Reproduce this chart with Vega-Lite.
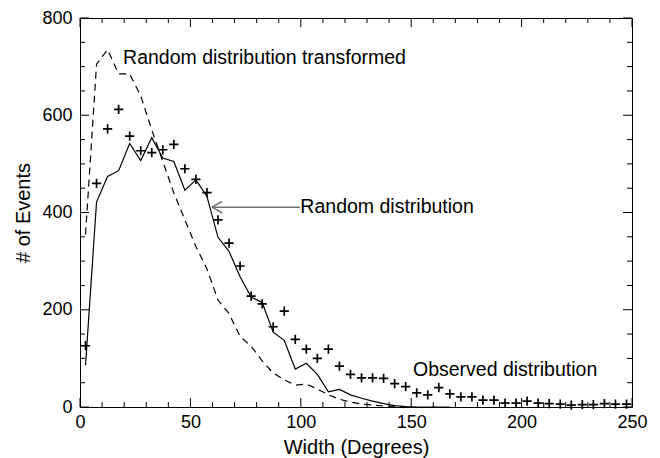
{
  "$schema": "https://vega.github.io/schema/vega-lite/v6.json",
  "width": 552,
  "height": 389,
  "autosize": "none",
  "padding": {"left": 80, "top": 18, "right": 28, "bottom": 51},
  "background": "white",
  "config": {
    "view": {"stroke": "black", "strokeWidth": 1},
    "font": "Liberation Sans",
    "axis": {"labelFont": "Liberation Sans", "titleFont": "Liberation Sans", "labelFontSize": 18, "titleFontSize": 20, "titleFontWeight": "normal", "labelColor": "black", "titleColor": "black", "ticks": false, "domain": false, "grid": false}
  },
  "datasets": {
    "observed": [
      {"w": 2.5, "n": 126}, {"w": 7.5, "n": 460}, {"w": 12.5, "n": 572}, {"w": 17.5, "n": 612}, {"w": 22.5, "n": 557},
      {"w": 27.5, "n": 527}, {"w": 32.5, "n": 523}, {"w": 37.5, "n": 529}, {"w": 42.5, "n": 540}, {"w": 47.5, "n": 490},
      {"w": 52.5, "n": 468}, {"w": 57.5, "n": 441}, {"w": 62.5, "n": 385}, {"w": 67.5, "n": 337}, {"w": 72.5, "n": 290},
      {"w": 77.5, "n": 228}, {"w": 82.5, "n": 212}, {"w": 87.5, "n": 165}, {"w": 92.5, "n": 197}, {"w": 97.5, "n": 139},
      {"w": 102.5, "n": 119}, {"w": 107.5, "n": 100}, {"w": 112.5, "n": 119}, {"w": 117.5, "n": 84}, {"w": 122.5, "n": 67},
      {"w": 127.5, "n": 60}, {"w": 132.5, "n": 60}, {"w": 137.5, "n": 59}, {"w": 142.5, "n": 48}, {"w": 147.5, "n": 42},
      {"w": 152.5, "n": 29}, {"w": 157.5, "n": 25}, {"w": 162.5, "n": 40}, {"w": 167.5, "n": 27}, {"w": 172.5, "n": 21},
      {"w": 177.5, "n": 21}, {"w": 182.5, "n": 14}, {"w": 187.5, "n": 14}, {"w": 192.5, "n": 8}, {"w": 197.5, "n": 8},
      {"w": 202.5, "n": 12}, {"w": 207.5, "n": 8}, {"w": 212.5, "n": 7}, {"w": 217.5, "n": 6}, {"w": 222.5, "n": 4},
      {"w": 227.5, "n": 5}, {"w": 232.5, "n": 5}, {"w": 237.5, "n": 7}, {"w": 242.5, "n": 6}, {"w": 247.5, "n": 6}
    ],
    "random": [
      {"w": 2.5, "n": 86}, {"w": 7.5, "n": 422}, {"w": 12.5, "n": 474}, {"w": 17.5, "n": 486}, {"w": 22.5, "n": 542},
      {"w": 27.5, "n": 507}, {"w": 32.5, "n": 554}, {"w": 37.5, "n": 512}, {"w": 42.5, "n": 505}, {"w": 47.5, "n": 446},
      {"w": 52.5, "n": 467}, {"w": 57.5, "n": 433}, {"w": 62.5, "n": 349}, {"w": 67.5, "n": 320}, {"w": 72.5, "n": 268},
      {"w": 77.5, "n": 226}, {"w": 82.5, "n": 215}, {"w": 87.5, "n": 154}, {"w": 92.5, "n": 137}, {"w": 97.5, "n": 78},
      {"w": 102.5, "n": 90}, {"w": 107.5, "n": 67}, {"w": 112.5, "n": 31}, {"w": 117.5, "n": 36}, {"w": 122.5, "n": 25},
      {"w": 127.5, "n": 18}, {"w": 132.5, "n": 12}, {"w": 137.5, "n": 7}, {"w": 142.5, "n": 3}, {"w": 147.5, "n": 1},
      {"w": 152.5, "n": 0}, {"w": 157.5, "n": 0}, {"w": 162.5, "n": 0}, {"w": 167.5, "n": 0}
    ],
    "transformed": [
      {"w": 2.5, "n": 355}, {"w": 7.5, "n": 705}, {"w": 12.5, "n": 735}, {"w": 17.5, "n": 685}, {"w": 22.5, "n": 685},
      {"w": 27.5, "n": 640}, {"w": 32.5, "n": 570}, {"w": 37.5, "n": 505}, {"w": 42.5, "n": 440}, {"w": 47.5, "n": 385},
      {"w": 52.5, "n": 330}, {"w": 57.5, "n": 284}, {"w": 62.5, "n": 220}, {"w": 67.5, "n": 192}, {"w": 72.5, "n": 145},
      {"w": 77.5, "n": 125}, {"w": 82.5, "n": 95}, {"w": 87.5, "n": 70}, {"w": 92.5, "n": 56}, {"w": 97.5, "n": 45},
      {"w": 102.5, "n": 47}, {"w": 107.5, "n": 37}, {"w": 112.5, "n": 25}, {"w": 117.5, "n": 16}, {"w": 122.5, "n": 10},
      {"w": 127.5, "n": 6}, {"w": 132.5, "n": 4}, {"w": 137.5, "n": 2}, {"w": 142.5, "n": 1}, {"w": 147.5, "n": 0}
    ],
    "labels": [
      {"label": "Random distribution transformed", "w": 19.5, "n": 718},
      {"label": "Random distribution", "w": 99.8, "n": 411},
      {"label": "Observed distribution", "w": 150.8, "n": 76}
    ],
    "arrow": [
      {"w": 99.6, "n": 411, "w2": 59.8, "n2": 411},
      {"w": 59.8, "n": 411, "w2": 64.4, "n2": 423},
      {"w": 59.8, "n": 411, "w2": 64.4, "n2": 399}
    ],
    "xmajBottom": [{"w": 0, "n": 0}, {"w": 50, "n": 0}, {"w": 100, "n": 0}, {"w": 150, "n": 0}, {"w": 200, "n": 0}, {"w": 250, "n": 0}],
    "xmajTop": [{"w": 0, "n": 800}, {"w": 50, "n": 800}, {"w": 100, "n": 800}, {"w": 150, "n": 800}, {"w": 200, "n": 800}, {"w": 250, "n": 800}],
    "xminBottom": [{"w": 10, "n": 0}, {"w": 20, "n": 0}, {"w": 30, "n": 0}, {"w": 40, "n": 0}, {"w": 60, "n": 0}, {"w": 70, "n": 0}, {"w": 80, "n": 0}, {"w": 90, "n": 0}, {"w": 110, "n": 0}, {"w": 120, "n": 0}, {"w": 130, "n": 0}, {"w": 140, "n": 0}, {"w": 160, "n": 0}, {"w": 170, "n": 0}, {"w": 180, "n": 0}, {"w": 190, "n": 0}, {"w": 210, "n": 0}, {"w": 220, "n": 0}, {"w": 230, "n": 0}, {"w": 240, "n": 0}],
    "xminTop": [{"w": 10, "n": 800}, {"w": 20, "n": 800}, {"w": 30, "n": 800}, {"w": 40, "n": 800}, {"w": 60, "n": 800}, {"w": 70, "n": 800}, {"w": 80, "n": 800}, {"w": 90, "n": 800}, {"w": 110, "n": 800}, {"w": 120, "n": 800}, {"w": 130, "n": 800}, {"w": 140, "n": 800}, {"w": 160, "n": 800}, {"w": 170, "n": 800}, {"w": 180, "n": 800}, {"w": 190, "n": 800}, {"w": 210, "n": 800}, {"w": 220, "n": 800}, {"w": 230, "n": 800}, {"w": 240, "n": 800}],
    "ymajLeft": [{"w": 0, "n": 0}, {"w": 0, "n": 200}, {"w": 0, "n": 400}, {"w": 0, "n": 600}, {"w": 0, "n": 800}],
    "ymajRight": [{"w": 250, "n": 0}, {"w": 250, "n": 200}, {"w": 250, "n": 400}, {"w": 250, "n": 600}, {"w": 250, "n": 800}],
    "yminLeft": [{"w": 0, "n": 50}, {"w": 0, "n": 100}, {"w": 0, "n": 150}, {"w": 0, "n": 250}, {"w": 0, "n": 300}, {"w": 0, "n": 350}, {"w": 0, "n": 450}, {"w": 0, "n": 500}, {"w": 0, "n": 550}, {"w": 0, "n": 650}, {"w": 0, "n": 700}, {"w": 0, "n": 750}],
    "yminRight": [{"w": 250, "n": 50}, {"w": 250, "n": 100}, {"w": 250, "n": 150}, {"w": 250, "n": 250}, {"w": 250, "n": 300}, {"w": 250, "n": 350}, {"w": 250, "n": 450}, {"w": 250, "n": 500}, {"w": 250, "n": 550}, {"w": 250, "n": 650}, {"w": 250, "n": 700}, {"w": 250, "n": 750}]
  },
  "encoding": {
    "x": {"field": "w", "type": "quantitative", "scale": {"domain": [0, 250], "nice": false, "zero": false},
          "axis": {"orient": "bottom", "title": "Width (Degrees)", "values": [0, 50, 100, 150, 200, 250], "labelPadding": 6, "titlePadding": 6, "labelFlush": false}},
    "y": {"field": "n", "type": "quantitative", "scale": {"domain": [0, 800], "nice": false, "zero": false},
          "axis": {"orient": "left", "title": "# of Events", "values": [0, 200, 400, 600, 800], "labelPadding": 8, "titlePadding": 8, "labelFlush": false}}
  },
  "layer": [
    {
      "data": {"name": "transformed"},
      "mark": {"type": "line", "color": "black", "strokeWidth": 1.2, "strokeDash": [7, 5]}
    },
    {
      "data": {"name": "random"},
      "mark": {"type": "line", "color": "black", "strokeWidth": 1.2}
    },
    {
      "data": {"name": "observed"},
      "mark": {"type": "point", "shape": "M -1 0 L 1 0 M 0 -1 L 0 1", "size": 85, "filled": false, "color": "black", "strokeWidth": 1.7, "opacity": 1}
    },
    {
      "data": {"name": "labels"},
      "mark": {"type": "text", "align": "left", "baseline": "middle", "font": "Liberation Sans", "fontSize": 19.5, "color": "black"},
      "encoding": {"text": {"field": "label"}}
    },
    {
      "data": {"name": "arrow"},
      "mark": {"type": "rule", "color": "#707070", "strokeWidth": 1.5},
      "encoding": {"x2": {"field": "w2"}, "y2": {"field": "n2"}}
    },
    {
      "data": {"name": "xmajBottom"},
      "mark": {"type": "rule", "color": "black", "strokeWidth": 1, "y2Offset": -9},
      "encoding": {"x2": {"field": "w"}, "y2": {"field": "n"}}
    },
    {
      "data": {"name": "xmajTop"},
      "mark": {"type": "rule", "color": "black", "strokeWidth": 1, "y2Offset": 9},
      "encoding": {"x2": {"field": "w"}, "y2": {"field": "n"}}
    },
    {
      "data": {"name": "xminBottom"},
      "mark": {"type": "rule", "color": "black", "strokeWidth": 1, "y2Offset": -5},
      "encoding": {"x2": {"field": "w"}, "y2": {"field": "n"}}
    },
    {
      "data": {"name": "xminTop"},
      "mark": {"type": "rule", "color": "black", "strokeWidth": 1, "y2Offset": 5},
      "encoding": {"x2": {"field": "w"}, "y2": {"field": "n"}}
    },
    {
      "data": {"name": "ymajLeft"},
      "mark": {"type": "rule", "color": "black", "strokeWidth": 1, "x2Offset": 9},
      "encoding": {"x2": {"field": "w"}, "y2": {"field": "n"}}
    },
    {
      "data": {"name": "ymajRight"},
      "mark": {"type": "rule", "color": "black", "strokeWidth": 1, "x2Offset": -9},
      "encoding": {"x2": {"field": "w"}, "y2": {"field": "n"}}
    },
    {
      "data": {"name": "yminLeft"},
      "mark": {"type": "rule", "color": "black", "strokeWidth": 1, "x2Offset": 5},
      "encoding": {"x2": {"field": "w"}, "y2": {"field": "n"}}
    },
    {
      "data": {"name": "yminRight"},
      "mark": {"type": "rule", "color": "black", "strokeWidth": 1, "x2Offset": -5},
      "encoding": {"x2": {"field": "w"}, "y2": {"field": "n"}}
    }
  ]
}
